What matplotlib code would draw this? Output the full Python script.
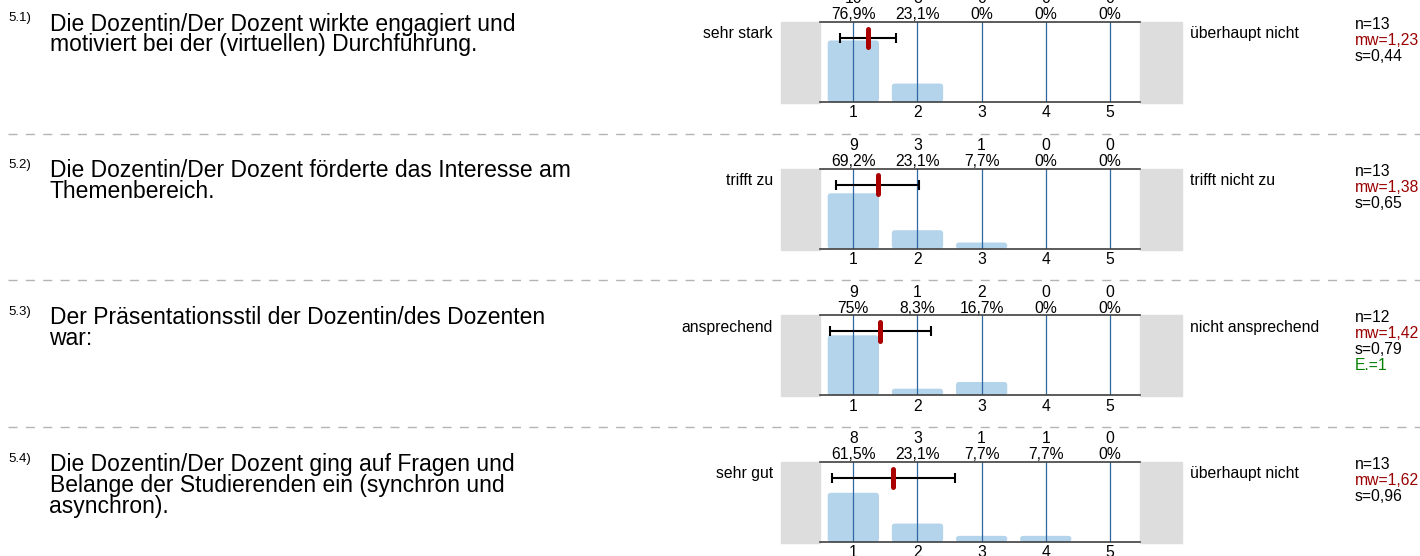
import matplotlib.pyplot as plt
from matplotlib.patches import FancyBboxPatch, Rectangle
from matplotlib.lines import Line2D

plt.rcParams['font.family'] = ['Liberation Sans', 'DejaVu Sans']

# ============================================
# DATA
# ============================================
question_ids = ['5.1)', '5.2)', '5.3)', '5.4)']
questions = [
    ['Die Dozentin/Der Dozent wirkte engagiert und',
     'motiviert bei der (virtuellen) Durchführung.'],
    ['Die Dozentin/Der Dozent förderte das Interesse am',
     'Themenbereich.'],
    ['Der Präsentationsstil der Dozentin/des Dozenten',
     'war:'],
    ['Die Dozentin/Der Dozent ging auf Fragen und',
     'Belange der Studierenden ein (synchron und',
     'asynchron).'],
]
left_labels = ['sehr stark', 'trifft zu', 'ansprechend', 'sehr gut']
right_labels = ['überhaupt nicht', 'trifft nicht zu', 'nicht ansprechend', 'überhaupt nicht']

scale = [1, 2, 3, 4, 5]
counts_51 = [10, 3, 0, 0, 0]
counts_52 = [9, 3, 1, 0, 0]
counts_53 = [9, 1, 2, 0, 0]
counts_54 = [8, 3, 1, 1, 0]
all_counts = [counts_51, counts_52, counts_53, counts_54]

n_values = [13, 13, 12, 13]
means = [1.23, 1.38, 1.42, 1.62]
std_devs = [0.44, 0.65, 0.79, 0.96]
abstentions = [0, 0, 1, 0]

# colours
BAR_BLUE = '#b4d4eb'
GRID_BLUE = '#2e67a3'
MEAN_RED = '#aa0000'
STAT_RED = '#990000'
STAT_GREEN = '#008000'
GREY_BOX = '#dddddd'
FRAME = '#404040'
DASH_GREY = '#b4b4b4'

SMALL = 11.3

# ============================================
# LAYOUT (pixel helpers)
# ============================================
W, H = 1420, 556
fig = plt.figure(figsize=(W / 100, H / 100), dpi=100)


def fx(px):
    return px / W


def fy(py):
    return 1 - py / H


ROW_STEP = 146.67
FRAME_LEFT, FRAME_RIGHT, FRAME_H = 820, 1140, 80
GREY_LEFT, GREY_RIGHT = 780.7, 1182


def fmt_pct(count, n):
    s = f"{count / n * 100:.1f}".replace('.', ',')
    if s.endswith(',0'):
        s = s[:-2]
    return s + '%'


for i in range(4):
    top = 22 + i * ROW_STEP
    counts = all_counts[i]
    n = n_values[i]

    # separator line above the row
    if i > 0:
        yy = fy(top - 35)
        fig.add_artist(Line2D([fx(8), 1], [yy, yy], transform=fig.transFigure,
                              color=DASH_GREY, lw=1, dashes=(6.5, 6)))

    # question text
    fig.text(fx(8), fy(top - 0.5), question_ids[i], fontsize=9.5, va='baseline')
    for k, line in enumerate(questions[i]):
        fig.text(fx(49.5), fy(top + 8.5 + k * 21), line, fontsize=16.5, va='baseline')

    # chart axes
    ax = fig.add_axes([fx(FRAME_LEFT), fy(top + FRAME_H),
                       (FRAME_RIGHT - FRAME_LEFT) / W, FRAME_H / H])
    ax.set_xlim(0.48, 5.47)
    ax.set_ylim(0, 1)
    ax.set_xticks([])
    ax.set_yticks([])
    for side in ['left', 'right']:
        ax.spines[side].set_visible(False)
    for side in ['top', 'bottom']:
        ax.spines[side].set_color(FRAME)
        ax.spines[side].set_linewidth(1.2)
        ax.spines[side].set_zorder(6)

    # grey end boxes
    fw = FRAME_RIGHT - FRAME_LEFT
    ax.add_patch(Rectangle(((GREY_LEFT - FRAME_LEFT) / fw, -1 / FRAME_H),
                           (FRAME_LEFT - GREY_LEFT) / fw, 1 + 1 / FRAME_H,
                           transform=ax.transAxes, color=GREY_BOX, clip_on=False, zorder=0))
    ax.add_patch(Rectangle((1, -1 / FRAME_H), (GREY_RIGHT - FRAME_RIGHT) / fw, 1 + 1 / FRAME_H,
                           transform=ax.transAxes, color=GREY_BOX, clip_on=False, zorder=0))

    # bars with rounded corners
    fractions = [c / n for c in counts]
    bars = ax.bar(scale, fractions, width=0.8, color=BAR_BLUE, zorder=2)
    for rect in bars:
        h = rect.get_height()
        if h > 0:
            ax.add_patch(FancyBboxPatch((rect.get_x(), 0), rect.get_width(), h,
                                        boxstyle='round,pad=0,rounding_size=0.05',
                                        mutation_aspect=0.8, color=BAR_BLUE,
                                        lw=0, zorder=2))
        rect.remove()

    # vertical scale lines
    for x in scale:
        ax.axvline(x, color=GRID_BLUE, lw=0.9, zorder=3)

    # mean +- standard deviation
    ax.errorbar(means[i], 0.8, xerr=std_devs[i], fmt='none', ecolor='black',
                elinewidth=1.5, capsize=3.6, capthick=1.5, zorder=4)
    ax.plot([means[i], means[i]], [0.685, 0.915], color=MEAN_RED, lw=3.6,
            solid_capstyle='round', zorder=5)

    # labels around the frame
    xt = ax.get_xaxis_transform()
    for x, c in zip(scale, counts):
        ax.text(x, -15.3 / FRAME_H, str(x), transform=xt, ha='center', va='baseline', fontsize=SMALL)
        ax.text(x, 1 + 18.7 / FRAME_H, str(c), transform=xt, ha='center', va='baseline', fontsize=SMALL)
        ax.text(x, 1 + 2.7 / FRAME_H, fmt_pct(c, n), transform=xt, ha='center',
                va='baseline', fontsize=SMALL)

    fig.text(fx(772.7), fy(top + 16.3), left_labels[i], ha='right', va='baseline', fontsize=SMALL)
    fig.text(fx(1189.5), fy(top + 16.3), right_labels[i], ha='left', va='baseline', fontsize=SMALL)

    # statistics
    stats = [(f"n={n}", 'black'),
             (f"mw={means[i]:.2f}".replace('.', ','), STAT_RED),
             (f"s={std_devs[i]:.2f}".replace('.', ','), 'black')]
    if abstentions[i] > 0:
        stats.append((f"E.={abstentions[i]}", STAT_GREEN))
    for k, (txt, col) in enumerate(stats):
        fig.text(fx(1355), fy(top + 7 + k * 16), txt, color=col, va='baseline', fontsize=SMALL)

fig.savefig('out.png', dpi=100)
